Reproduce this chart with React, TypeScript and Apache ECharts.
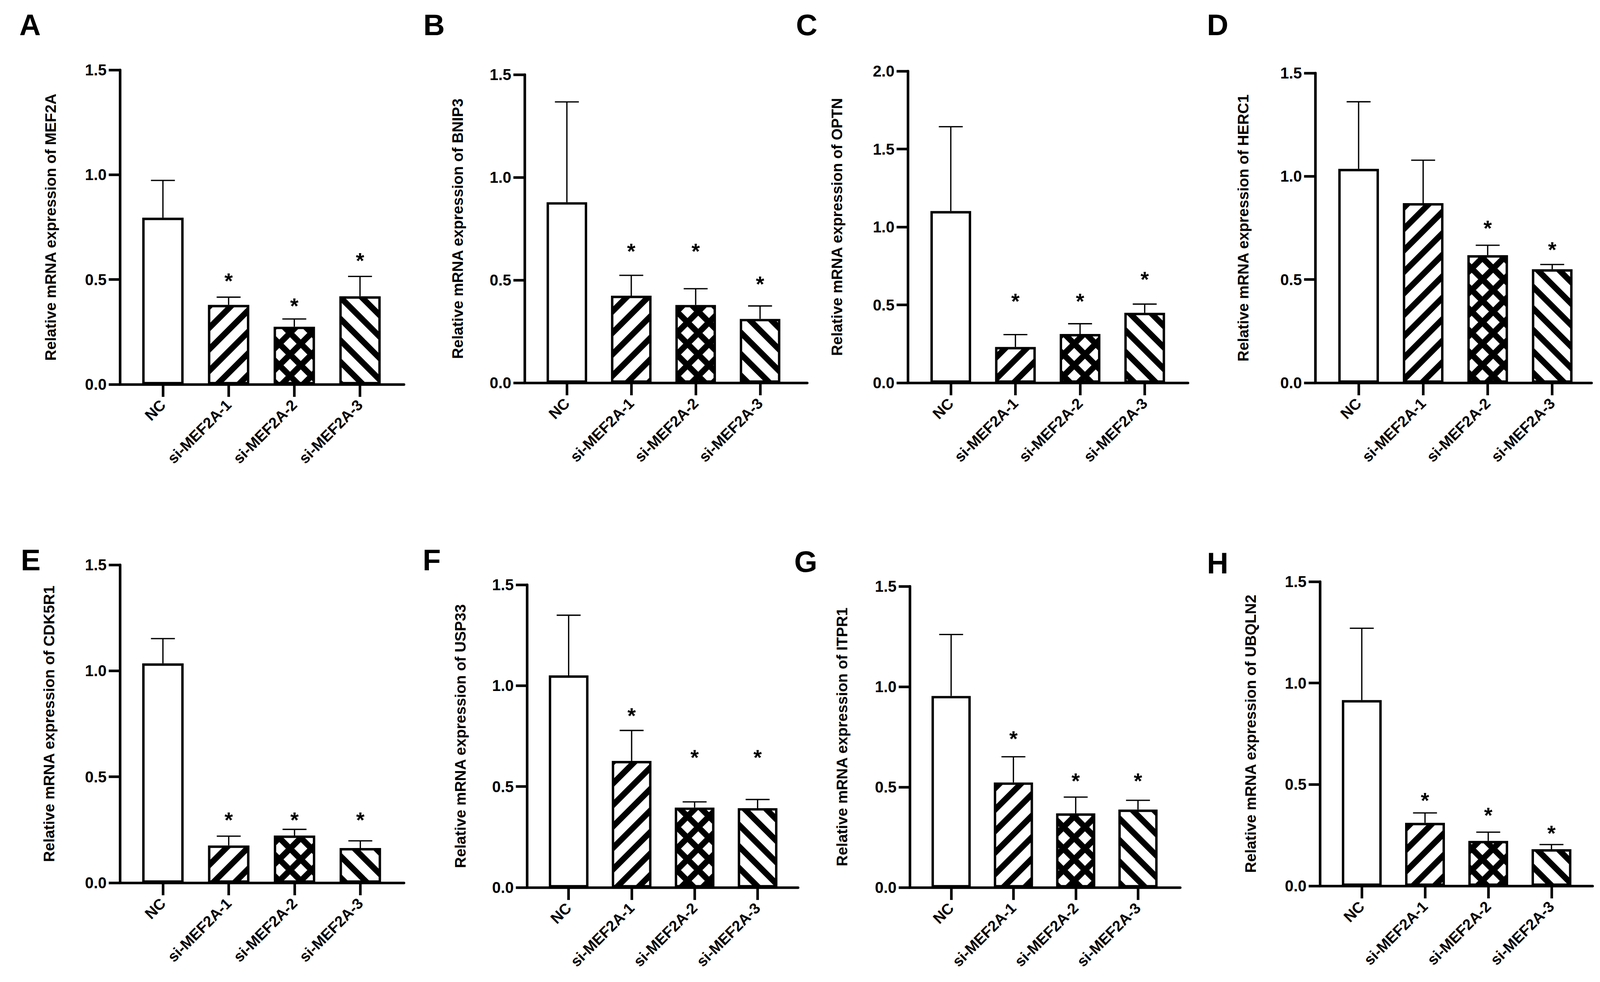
import React, { useEffect, useRef } from "react";
import * as echarts from "echarts";

// ---------- data ----------
const categories = ["NC", "si-MEF2A-1", "si-MEF2A-2", "si-MEF2A-3"];
const panelLetters = ["A", "B", "C", "D", "E", "F", "G", "H"];
const genes = ["MEF2A", "BNIP3", "OPTN", "HERC1", "CDK5R1", "USP33", "ITPR1", "UBQLN2"];
const yMaxes = [1.5, 1.5, 2.0, 1.5, 1.5, 1.5, 1.5, 1.5];
const yInterval = 0.5;

const meanMEF2A = [0.795, 0.379, 0.275, 0.42];
const sdMEF2A = [0.178, 0.037, 0.037, 0.095];
const starMEF2A = [null, 0.52, 0.4, 0.616];

const meanBNIP3 = [0.879, 0.424, 0.379, 0.311];
const sdBNIP3 = [0.488, 0.099, 0.079, 0.063];
const starBNIP3 = [null, 0.667, 0.667, 0.508];

const meanOPTN = [1.102, 0.23, 0.313, 0.449];
const sdOPTN = [0.541, 0.079, 0.066, 0.056];
const starOPTN = [null, 0.559, 0.559, 0.699];

const meanHERC1 = [1.036, 0.87, 0.618, 0.55];
const sdHERC1 = [0.325, 0.208, 0.048, 0.023];
const starHERC1 = [null, null, 0.776, 0.671];

const meanCDK5R1 = [1.035, 0.176, 0.223, 0.164];
const sdCDK5R1 = [0.117, 0.044, 0.029, 0.034];
const starCDK5R1 = [null, 0.323, 0.323, 0.323];

const meanUSP33 = [1.051, 0.627, 0.396, 0.393];
const sdUSP33 = [0.298, 0.151, 0.028, 0.043];
const starUSP33 = [null, 0.879, 0.671, 0.671];

const meanITPR1 = [0.954, 0.523, 0.369, 0.388];
const sdITPR1 = [0.306, 0.128, 0.081, 0.046];
const starITPR1 = [null, 0.768, 0.558, 0.558];

const meanUBQLN2 = [0.916, 0.311, 0.222, 0.181];
const sdUBQLN2 = [0.354, 0.049, 0.043, 0.023];
const starUBQLN2 = [null, 0.448, 0.376, 0.287];

const means = [meanMEF2A, meanBNIP3, meanOPTN, meanHERC1, meanCDK5R1, meanUSP33, meanITPR1, meanUBQLN2];
const sds = [sdMEF2A, sdBNIP3, sdOPTN, sdHERC1, sdCDK5R1, sdUSP33, sdITPR1, sdUBQLN2];
const stars = [starMEF2A, starBNIP3, starOPTN, starHERC1, starCDK5R1, starUSP33, starITPR1, starUBQLN2];

// ---------- layout (reference pixels, 4547 x 2514 design) ----------
const DESIGN_W = 4547;
const DESIGN_H = 2514;
const layout = [
  { axisX: 341, axisEnd: 1148, top: 179, zero: 984, c0: 463, band: 186.7, nameGap: 176, lx: 55, ly: 33 },
  { axisX: 1491, axisEnd: 2294, top: 191, zero: 980, c0: 1611, band: 183, nameGap: 169, lx: 1203, ly: 33 },
  { axisX: 2580, axisEnd: 3376, top: 182, zero: 980, c0: 2702, band: 183.7, nameGap: 180, lx: 2262, ly: 33 },
  { axisX: 3738, axisEnd: 4523, top: 187, zero: 980, c0: 3861, band: 183.4, nameGap: 183, lx: 3430, ly: 33 },
  { axisX: 341, axisEnd: 1148, top: 1446, zero: 2260, c0: 463, band: 187, nameGap: 180, lx: 59, ly: 1403 },
  { axisX: 1498, axisEnd: 2268, top: 1497, zero: 2272, c0: 1616, band: 179, nameGap: 168, lx: 1201, ly: 1403 },
  { axisX: 2586, axisEnd: 3354, top: 1501, zero: 2272, c0: 2703, band: 177, nameGap: 171, lx: 2257, ly: 1407 },
  { axisX: 3751, axisEnd: 4526, top: 1489, zero: 2268, c0: 3870, band: 179.7, nameGap: 175, lx: 3430, ly: 1411 },
];

const FONT = '"Liberation Sans", Arial, Helvetica, sans-serif';

function getScales() {
  if (typeof window === "undefined") return { sx: 1, sy: 1 };
  const w = window.innerWidth || DESIGN_W;
  const h = window.innerHeight || DESIGN_H;
  return { sx: w / DESIGN_W, sy: h / DESIGN_H };
}

function makePattern(kind: string, s: number) {
  const P = Math.max(4, Math.round(58 * s));
  const c = document.createElement("canvas");
  c.width = P;
  c.height = P;
  const ctx = c.getContext("2d")!;
  ctx.fillStyle = "#ffffff";
  ctx.fillRect(0, 0, P, P);
  ctx.strokeStyle = "#000000";
  ctx.lineWidth = 16 * s;
  // "/" : y = -x + c
  const slash = () => {
    for (let k = -2; k <= 3; k++) {
      const cc = k * P;
      ctx.beginPath();
      ctx.moveTo(-P, cc + P);
      ctx.lineTo(2 * P, cc - 2 * P);
      ctx.stroke();
    }
  };
  // "\" : y = x + c
  const back = () => {
    for (let k = -3; k <= 2; k++) {
      const cc = k * P;
      ctx.beginPath();
      ctx.moveTo(-P, cc - P);
      ctx.lineTo(2 * P, cc + 2 * P);
      ctx.stroke();
    }
  };
  if (kind === "slash") slash();
  else if (kind === "back") back();
  else {
    slash();
    back();
  }
  return { image: c, repeat: "repeat", imageWidth: P, imageHeight: P } as any;
}

export default function App() {
  const ref = useRef<HTMLDivElement>(null);
  const { sx, sy } = getScales();
  useEffect(() => {
    if (!ref.current) return;
    const chart = echarts.init(ref.current, undefined, { renderer: "svg" });
    const sf = Math.sqrt(sx * sy); // font / stroke scale
    const fills = ["#ffffff", makePattern("slash", sf), makePattern("cross", sf), makePattern("back", sf)];
    const LW = 7 * sf;

    const grids: any[] = [];
    const xAxes: any[] = [];
    const yAxes: any[] = [];
    const series: any[] = [];
    const graphics: any[] = [];

    layout.forEach((L, k) => {
      const height = (L.zero - L.top) * sy;
      const ymax = yMaxes[k];
      grids.push({ left: L.axisX * sx, top: L.top * sy, width: (L.axisEnd - L.axisX) * sx, height, containLabel: false });
      const dataLeft = (L.c0 - L.band / 2) * sx;
      grids.push({ left: dataLeft, top: L.top * sy, width: L.band * 4 * sx, height, containLabel: false });
      const fg = 2 * k;
      const dg = 2 * k + 1;
      xAxes.push({
        type: "value",
        gridIndex: fg,
        min: 0,
        max: 1,
        axisLine: { show: true, lineStyle: { color: "#000", width: LW } },
        axisTick: { show: false },
        axisLabel: { show: false },
        splitLine: { show: false },
      });
      yAxes.push({
        type: "value",
        gridIndex: fg,
        min: 0,
        max: ymax,
        interval: yInterval,
        name: "Relative mRNA expression of " + genes[k],
        nameLocation: "middle",
        nameGap: L.nameGap * sx,
        nameTextStyle: { color: "#000", fontSize: 41 * sf, fontWeight: "bold", fontFamily: FONT },
        axisLine: { show: true, lineStyle: { color: "#000", width: LW } },
        axisTick: { show: true, length: 32 * sx, lineStyle: { color: "#000", width: LW } },
        axisLabel: {
          show: true,
          margin: 38 * sx,
          color: "#000",
          fontSize: 42 * sf,
          fontWeight: "bold",
          fontFamily: FONT,
          formatter: (v: number) => v.toFixed(1),
        },
        splitLine: { show: false },
      });
      xAxes.push({
        type: "category",
        gridIndex: dg,
        data: categories,
        axisLine: { show: false },
        axisTick: { show: true, alignWithLabel: true, length: 32 * sy, lineStyle: { color: "#000", width: LW } },
        axisLabel: {
          interval: 0,
          rotate: 45,
          margin: 46 * sy,
          color: "#000",
          fontSize: 41 * sf,
          fontWeight: "bold",
          fontFamily: FONT,
        },
        splitLine: { show: false },
      });
      yAxes.push({ type: "value", gridIndex: dg, min: 0, max: ymax, show: false, splitLine: { show: false } });

      const axisIdx = 2 * k + 1;
      series.push({
        type: "bar",
        xAxisIndex: axisIdx,
        yAxisIndex: axisIdx,
        barWidth: "63%",
        data: means[k].map((v, i) => ({
          value: v,
          itemStyle: { color: fills[i], borderColor: "#000", borderWidth: 6.5 * sf },
        })),
        z: 2,
      });
      series.push({
        type: "custom",
        xAxisIndex: axisIdx,
        yAxisIndex: axisIdx,
        data: means[k].map((v, i) => [i, v, sds[k][i]]),
        encode: { x: 0, y: 1 },
        z: 3,
        renderItem: (params: any, api: any) => {
          const i = api.value(0);
          const m = api.value(1);
          const sd = api.value(2);
          const p0 = api.coord([i, m]);
          const p1 = api.coord([i, m + sd]);
          return {
            type: "group",
            children: [
              { type: "line", shape: { x1: p0[0], y1: p0[1], x2: p1[0], y2: p1[1] }, style: { stroke: "#000", lineWidth: 3.5 * sf } },
              { type: "line", shape: { x1: p1[0] - 34 * sx, y1: p1[1], x2: p1[0] + 34 * sx, y2: p1[1] }, style: { stroke: "#000", lineWidth: 3.5 * sf } },
            ],
          };
        },
      });
      const starData = stars[k]
        .map((v, i) => (v === null ? null : [i, v]))
        .filter((d) => d !== null);
      series.push({
        type: "custom",
        xAxisIndex: axisIdx,
        yAxisIndex: axisIdx,
        data: starData,
        encode: { x: 0, y: 1 },
        z: 4,
        renderItem: (params: any, api: any) => {
          const p = api.coord([api.value(0), api.value(1)]);
          return {
            type: "text",
            x: p[0],
            y: p[1] + 14 * sy,
            style: { text: "*", fill: "#000", font: "bold " + 58 * sf + "px " + FONT, align: "center", verticalAlign: "middle" },
          };
        },
      });
      graphics.push({
        type: "text",
        left: L.lx * sx,
        top: (L.ly - 8) * sy,
        style: { text: panelLetters[k], fill: "#000", font: "bold " + 80 * sf + "px " + FONT },
      });
    });

    chart.setOption({
      animation: false,
      backgroundColor: "#ffffff",
      grid: grids,
      xAxis: xAxes,
      yAxis: yAxes,
      series,
      graphic: graphics,
    });
    return () => chart.dispose();
  }, [sx, sy]);
  return (
    <div
      ref={ref}
      style={{ position: "absolute", left: 0, top: 0, width: DESIGN_W * sx, height: DESIGN_H * sy, background: "#fff" }}
    />
  );
}
